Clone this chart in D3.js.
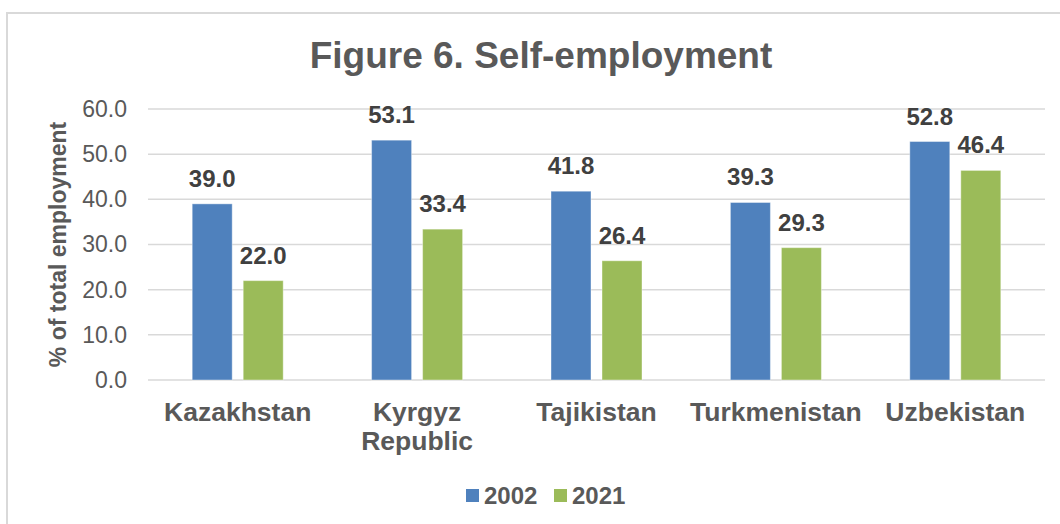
<!DOCTYPE html>
<html>
<head>
<meta charset="utf-8">
<script src="https://cdn.jsdelivr.net/npm/d3@7"></script>
<style>
  body { margin: 0; background: #fff; }
  text { font-family: "Liberation Sans", Arial, sans-serif; }
</style>
</head>
<body>
<div id="chart"></div>
<script>
let countries = ["Kazakhstan", "Kyrgyz Republic", "Tajikistan", "Turkmenistan", "Uzbekistan"];
let years = ["2002", "2021"];
let values2002 = [39.0, 53.1, 41.8, 39.3, 52.8];
let values2021 = [22.0, 33.4, 26.4, 29.3, 46.4];
let yTicks = [0, 10, 20, 30, 40, 50, 60];

let colors = { "2002": "#4f81bd", "2021": "#9bbb59" };

let svgWidth = 1060;
let svgHeight = 524;

let margin = { top: 109, right: 15, bottom: 144, left: 148 };
let width = svgWidth - margin.left - margin.right;
let height = svgHeight - margin.top - margin.bottom;

let svg = d3.select("#chart")
    .append("svg")
    .attr("width", svgWidth)
    .attr("height", svgHeight);

// outer frame
svg.append("rect")
    .attr("x", 7)
    .attr("y", 13)
    .attr("width", 1080)
    .attr("height", 540)
    .attr("fill", "none")
    .attr("stroke", "#d9d9d9")
    .attr("stroke-width", 2);

svg.append("text")
    .attr("x", 541)
    .attr("y", 68)
    .attr("text-anchor", "middle")
    .attr("font-size", 37)
    .attr("font-weight", "bold")
    .attr("fill", "#595959")
    .text("Figure 6. Self-employment");

let chartGroup = svg.append("g")
    .attr("transform", `translate(${margin.left}, ${margin.top})`);

let data = countries.map((c, i) => ({ country: c, "2002": values2002[i], "2021": values2021[i] }));

let x0 = d3.scaleBand()
    .domain(countries)
    .range([0, width]);

let groupW = 91;
let x1 = d3.scaleBand()
    .domain(years)
    .range([(x0.bandwidth() - groupW) / 2, (x0.bandwidth() + groupW) / 2])
    .paddingInner(0.216);

let yScale = d3.scaleLinear()
    .domain([0, 60])
    .range([height, 0]);

// gridlines
chartGroup.append("g")
    .selectAll("line")
    .data(yTicks)
    .enter()
    .append("line")
    .attr("x1", 0)
    .attr("x2", width)
    .attr("y1", d => yScale(d))
    .attr("y2", d => yScale(d))
    .attr("stroke", "#d9d9d9")
    .attr("stroke-width", 1.5);

let leftAxis = d3.axisLeft(yScale)
    .tickValues(yTicks)
    .tickFormat(d3.format(".1f"))
    .tickSize(0)
    .tickPadding(21);

let yAxisG = chartGroup.append("g").call(leftAxis);
yAxisG.select(".domain").remove();
yAxisG.selectAll("text")
    .attr("font-size", 23)
    .attr("fill", "#595959")
    .style("font-family", "'Liberation Sans', Arial, sans-serif");

let bottomAxis = d3.axisBottom(x0).tickSize(0).tickPadding(0);
let xAxisG = chartGroup.append("g")
    .attr("transform", `translate(0, ${height})`)
    .call(bottomAxis);
xAxisG.select(".domain").remove();
xAxisG.selectAll("text").remove();
xAxisG.selectAll(".tick").each(function (d) {
    let words = d === "Kyrgyz Republic" ? ["Kyrgyz", "Republic"] : [d];
    let t = d3.select(this).append("text")
        .attr("text-anchor", "middle")
        .attr("font-size", 26.5)
        .attr("font-weight", "bold")
        .attr("fill", "#595959");
    words.forEach((w, i) => {
        t.append("tspan").attr("x", 0).attr("y", 41 + i * 29).text(w);
    });
});

let groups = chartGroup.selectAll(".grp")
    .data(data)
    .enter()
    .append("g")
    .attr("class", "grp")
    .attr("transform", d => `translate(${x0(d.country)}, 0)`);

groups.selectAll("rect")
    .data(d => years.map(y => ({ year: y, value: d[y] })))
    .enter()
    .append("rect")
    .attr("x", d => x1(d.year))
    .attr("y", d => yScale(d.value))
    .attr("width", x1.bandwidth())
    .attr("height", d => height - yScale(d.value))
    .attr("fill", d => colors[d.year])
    .attr("stroke", "#ffffff")
    .attr("stroke-opacity", 0.4)
    .attr("stroke-width", 1);

groups.selectAll(".lbl")
    .data(d => years.map(y => ({ year: y, value: d[y] })))
    .enter()
    .append("text")
    .attr("class", "lbl")
    .attr("x", d => x1(d.year) + x1.bandwidth() / 2)
    .attr("y", d => yScale(d.value) - 17)
    .attr("text-anchor", "middle")
    .attr("font-size", 24)
    .attr("font-weight", "bold")
    .attr("fill", "#404040")
    .text(d => d.value.toFixed(1));

// y axis title
svg.append("text")
    .attr("transform", `translate(66, ${margin.top + height / 2}) rotate(-90)`)
    .attr("text-anchor", "middle")
    .attr("font-size", 23)
    .attr("font-weight", "bold")
    .attr("fill", "#595959")
    .text("% of total employment");

// legend
let legend = svg.append("g");
let legendX = [466, 554];
years.forEach((y, i) => {
    legend.append("rect")
        .attr("x", legendX[i])
        .attr("y", 489)
        .attr("width", 13)
        .attr("height", 13)
        .attr("fill", colors[y]);
    legend.append("text")
        .attr("x", legendX[i] + 18)
        .attr("y", 504)
        .attr("font-size", 24)
        .attr("font-weight", "bold")
        .attr("fill", "#595959")
        .text(y);
});
</script>
</body>
</html>
